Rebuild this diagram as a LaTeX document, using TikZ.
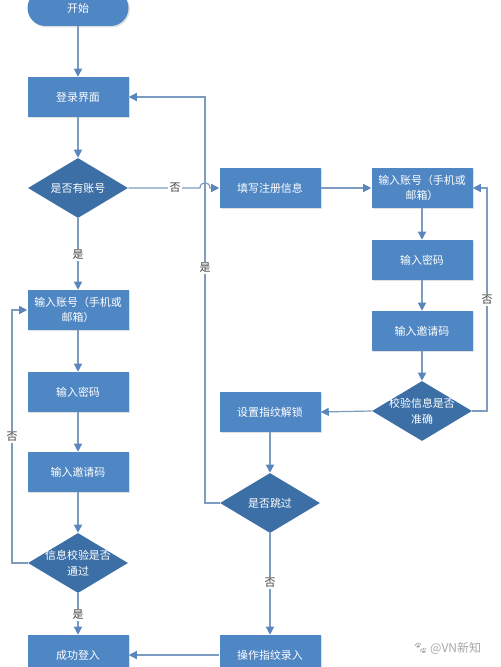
\documentclass[tikz,border=0pt]{standalone}
\usepackage{fontspec}
\setmainfont{Noto Sans CJK SC}
\newfontfamily\emojifont{Noto Emoji}
\usetikzlibrary{arrows.meta,shapes.geometric,shadows}
\definecolor{boxc}{HTML}{4F86C4}
\definecolor{diac}{HTML}{3C6FA6}
\definecolor{linec}{HTML}{7E9CC0}
\definecolor{tipc}{HTML}{5A86BA}
\begin{document}
\begin{tikzpicture}[x=0.75pt,y=-0.75pt,
  every node/.style={font=\fontsize{8.2}{10.5}\selectfont},
  box/.style={fill=boxc, minimum width=75.75pt, minimum height=30pt, inner sep=1pt,
    text=white, align=center,
    drop shadow={opacity=0.25, shadow xshift=1pt, shadow yshift=-1pt}},
  dia/.style={diamond, fill=diac, minimum width=75pt, minimum height=45pt, inner sep=0pt},
  lbl/.style={text=white, inner sep=0pt},
  conn/.style={draw=linec, line width=0.9pt},
  arr/.style={conn, -{Triangle[length=6pt,width=6pt,color=tipc]}},
  tag/.style={fill=white, inner sep=1pt, text=black!75}]
\useasboundingbox (0,0) rectangle (500,667);

% left/top column
\node[box, rounded corners=13.5pt, minimum height=27pt] (start) at (78,8) {开始};
\node[box] (login) at (78,97) {登录界面};
\node[dia] (hasacc) at (78,188) {};
\node[lbl] (hasacct) at (hasacc) {是否有账号};
\node[box] (lacc) at (78,310) {};
\node[lbl] (lacct1) at (78,302.5) {输入账号（手机或};
\node[lbl] (lacct2) at (78,317.5) {邮箱）};
\node[box] (lpwd) at (78,392) {输入密码};
\node[box] (linv) at (78,472) {输入邀请码};
\node[dia] (lchk) at (78,563) {};
\node[lbl] (lchkt1) at (78,555.5) {信息校验是否};
\node[lbl] (lchkt2) at (78,571) {通过};
\node[box] (succ) at (78,655) {成功登入};

% middle column
\node[box] (reg) at (270,188) {填写注册信息};
\node[box] (fp) at (270,412) {设置指纹解锁};
\node[dia] (skip) at (270,503) {};
\node[lbl] (skipt) at (skip) {是否跳过};
\node[box] (fprec) at (270,655) {操作指纹录入};

% right column
\node[box] (racc) at (422,188) {};
\node[lbl] (racct1) at (422,180.5) {输入账号（手机或};
\node[lbl] (racct2) at (422,195.5) {邮箱）};
\node[box] (rpwd) at (422,260) {输入密码};
\node[box] (rinv) at (422,331) {输入邀请码};
\node[dia] (rchk) at (422,411) {};
\node[lbl] (rchkt1) at (422,403.5) {校验信息是否};
\node[lbl] (rchkt2) at (422,419) {准确};

% connectors
\draw[arr] (start) -- (login);
\draw[arr] (login) -- (hasacc);
\draw[arr] (hasacc.east) -- (200,188) .. controls (200,181) and (210,181) .. (210,188) -- (reg.west);
\node[tag] (no1) at (175,188) {否};
\draw[arr] (reg) -- (racc);
\draw[arr] (racc) -- (rpwd);
\draw[arr] (rpwd) -- (rinv);
\draw[arr] (rinv) -- (rchk);
\draw[arr] (rchk.east) -- (487,411) -- (487,188) -- (racc.east);
\node[tag] (no2) at (487,300) {否};
\draw[arr] (rchk.west) -- (fp.east);
\draw[arr] (fp) -- (skip);
\draw[arr] (skip.west) -- (205,503) -- (205,97) -- (login.east);
\node[tag] (yes1) at (205,268) {是};
\draw[arr] (skip) -- (fprec);
\node[tag] (no3) at (270,583) {否};
\draw[arr] (fprec) -- (succ);
\draw[arr] (hasacc) -- (lacc);
\node[tag] (yes2) at (78,255) {是};
\draw[arr] (lacc) -- (lpwd);
\draw[arr] (lpwd) -- (linv);
\draw[arr] (linv) -- (lchk);
\draw[arr] (lchk.west) -- (12,563) -- (12,310) -- (lacc.west);
\node[tag] (no4) at (12,437) {否};
\draw[arr] (lchk) -- (succ);
\node[tag] (yes3) at (78,615) {是};

% watermark
\node[text=black!35, font=\fontsize{9}{11}\selectfont] (wm) at (447,648) {{\emojifont 🐾}\,@VN新知};
\end{tikzpicture}
\end{document}
